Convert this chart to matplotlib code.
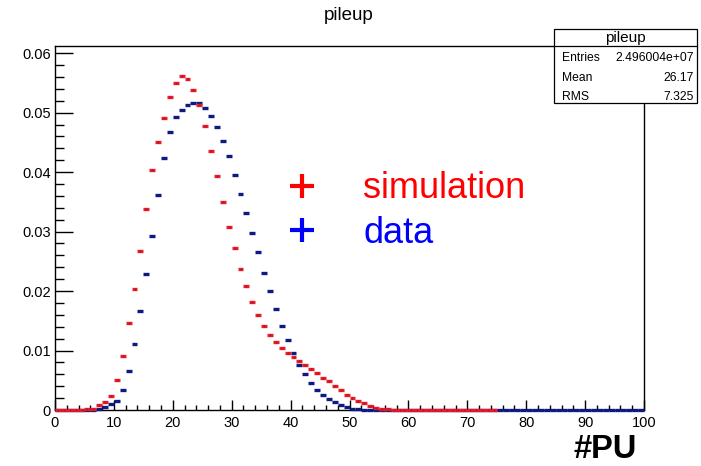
import matplotlib
matplotlib.use('Agg')
import matplotlib.pyplot as plt
import numpy as np
from matplotlib.lines import Line2D
from matplotlib.patches import Rectangle
from matplotlib.ticker import MultipleLocator, FuncFormatter

# pileup distribution, 1 unit bins, normalised
sim_values = [
    0.00005, 0.00005, 0.00005, 0.00005, 0.00005, 0.0002, 0.0002, 0.0008, 0.0013, 0.0024,
    0.0050, 0.0091, 0.0146, 0.0204, 0.0268, 0.0338, 0.0403, 0.0451, 0.0491, 0.0527,
    0.0549, 0.0562, 0.0556, 0.0538, 0.0513, 0.0477, 0.0436, 0.0394, 0.0350, 0.0308,
    0.0273, 0.0237, 0.0209, 0.0182, 0.0160, 0.0142, 0.0126, 0.0114, 0.0105, 0.0095,
    0.0089, 0.0083, 0.0076, 0.0069, 0.0062, 0.0054, 0.0048, 0.0040, 0.0033, 0.0025,
    0.0020, 0.0015, 0.0011, 0.0007, 0.0004, 0.0002, 0.0001, 0.00005, 0.00005, 0.00005,
    0.00005, 0.00005, 0.00005, 0.00005, 0.00005, 0.00005, 0.00005, 0.00005, 0.00005, 0.00005,
    0.00005, 0.00005, 0.00005, 0.00005, 0.00005,
]
data_values = [
    0, 0, 0, 0, 0, 0, 0, 0.00015, 0.0005, 0.0010,
    0.0015, 0.0033, 0.0066, 0.0111, 0.0167, 0.0228, 0.0293, 0.0362, 0.0423, 0.0467,
    0.0493, 0.0505, 0.0513, 0.0516, 0.0516, 0.0508, 0.0495, 0.0476, 0.0453, 0.0427,
    0.0395, 0.0364, 0.0331, 0.0298, 0.0265, 0.0231, 0.0200, 0.0170, 0.0142, 0.0118,
    0.0095, 0.0076, 0.0060, 0.0046, 0.0034, 0.0025, 0.0018, 0.0013, 0.0008, 0.00045,
    0.00025, 0.0001,
] + [0] * 48

stats_rows = [('Entries', '2.496004e+07'), ('Mean', '26.17'), ('RMS', '7.325')]

plt.rcParams['font.family'] = ['Liberation Sans', 'DejaVu Sans']

fig = plt.figure(figsize=(7.01, 4.66), dpi=100)
fig.patch.set_facecolor('white')
ax = fig.add_axes([55 / 701, 1 - 410 / 466, 589 / 701, 364 / 466])

red = '#ec1c2a'
navy = '#0d1a80'

x_data = np.arange(len(data_values)) + 0.5
x_sim = np.arange(len(sim_values)) + 0.5

ax.errorbar(x_data, data_values, xerr=0.5, fmt='none', ecolor=navy,
            elinewidth=2.4, capsize=0, clip_on=False, zorder=3)
ax.errorbar(x_sim, sim_values, xerr=0.5, fmt='none', ecolor=red,
            elinewidth=2.4, capsize=0, clip_on=False, zorder=4)
ax.plot(x_sim, sim_values, linestyle='none', marker='.', markersize=0.7,
        color='#a0101a', clip_on=False, zorder=5)

ax.set_xlim(0, 100)
ax.set_ylim(0, 0.0612)
ax.set_xticks(np.arange(0, 101, 10))
ax.set_yticks(np.arange(0, 0.061, 0.01))
ax.xaxis.set_minor_locator(MultipleLocator(2))
ax.yaxis.set_minor_locator(MultipleLocator(0.002))
ax.yaxis.set_major_formatter(FuncFormatter(lambda v, p: '0' if abs(v) < 1e-9 else f'{v:.2f}'))

ax.tick_params(axis='both', which='both', direction='in', top=False, right=False,
               labelsize=10.5, width=1)
ax.tick_params(axis='y', which='major', length=13, pad=3)
ax.tick_params(axis='y', which='minor', length=6.5)
ax.tick_params(axis='x', which='major', length=7.5, pad=4)
ax.tick_params(axis='x', which='minor', length=3.8)
for sp in ax.spines.values():
    sp.set_linewidth(1)

ax.set_xlabel('#PU', loc='right', fontsize=23.5, fontweight='bold')
ax.xaxis.set_label_coords((637 - 55) / 589, (410 - 458) / 364)
ax.xaxis.label.set_verticalalignment('baseline')

fig.text(349 / 701, 1 - 15 / 466, 'pileup', ha='center', va='center', fontsize=13.5)

# legend
handles = [
    Line2D([], [], linestyle='none', marker='+', color='red', markersize=17, markeredgewidth=3),
    Line2D([], [], linestyle='none', marker='+', color='blue', markersize=17, markeredgewidth=3),
]
ax.legend(handles, ['simulation', 'data'], loc='center left',
          bbox_to_anchor=(284 / 701, 1 - 211 / 466), bbox_transform=fig.transFigure,
          frameon=False, fontsize=26, labelcolor=['red', 'blue'], handlelength=1.0,
          handletextpad=1.2, borderpad=0, borderaxespad=0, labelspacing=0.25)

# stats box
bx0, bx1, by0, by1, bsep = 554, 697, 29, 103, 46
box = Rectangle((bx0 / 701, 1 - by1 / 466), (bx1 - bx0) / 701, (by1 - by0) / 466,
                transform=fig.transFigure, facecolor='white', edgecolor='black',
                linewidth=0.9, zorder=10)
fig.patches.append(box)
fig.add_artist(Line2D([bx0 / 701, bx1 / 701], [1 - bsep / 466, 1 - bsep / 466],
                      transform=fig.transFigure, color='black', linewidth=0.9, zorder=11))
fig.text((bx0 + bx1) / 2 / 701, 1 - 38 / 466, 'pileup', ha='center', va='center',
         fontsize=11, zorder=12)
for (name, val), yy in zip(stats_rows, [58, 78, 97]):
    fig.text(562 / 701, 1 - yy / 466, name, ha='left', va='center', fontsize=8.7, zorder=12)
    fig.text(694 / 701, 1 - yy / 466, val, ha='right', va='center', fontsize=8.7, zorder=12)

fig.savefig('out.png', dpi=100)
